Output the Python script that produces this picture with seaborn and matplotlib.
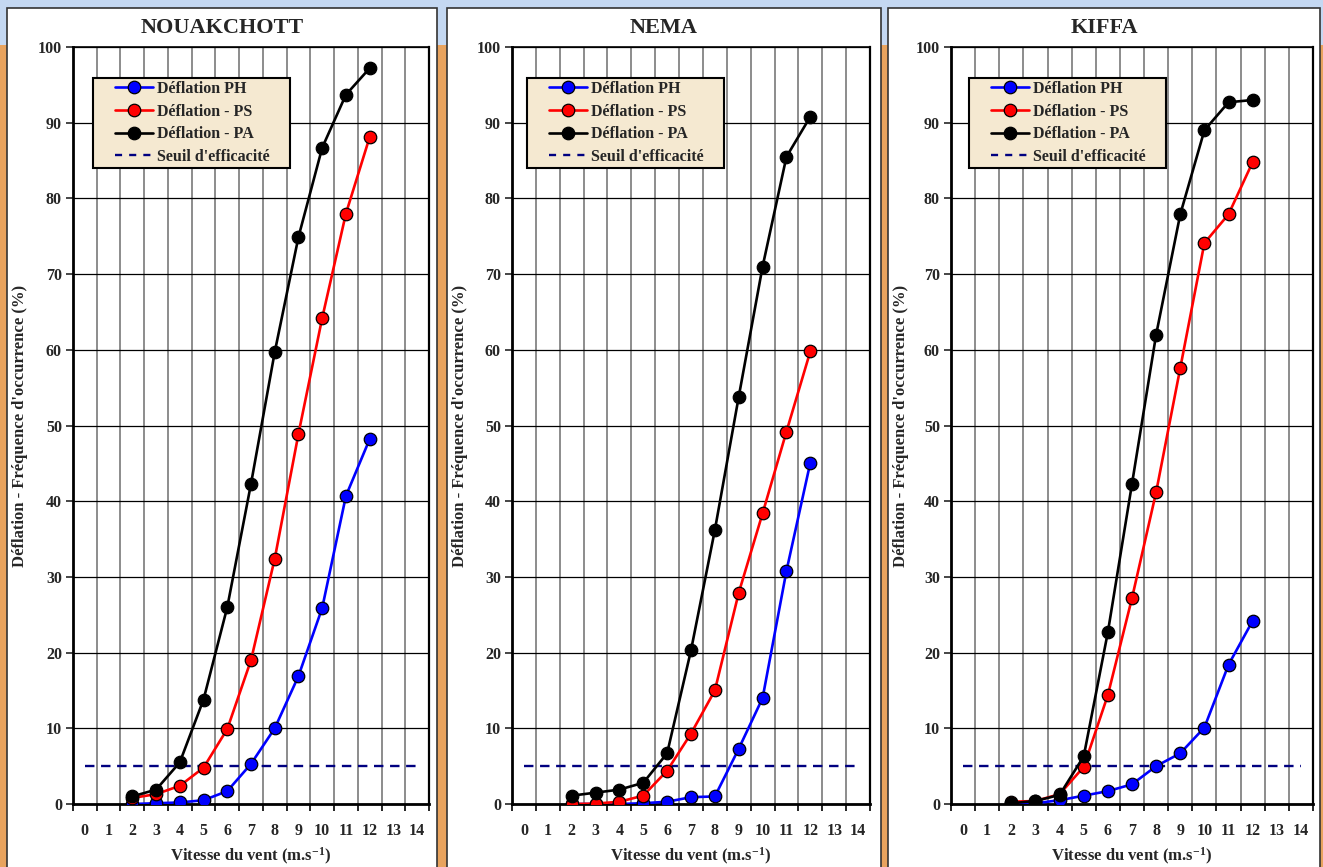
import matplotlib
matplotlib.use("Agg")
import matplotlib.pyplot as plt
from matplotlib.patches import Rectangle
from matplotlib.lines import Line2D
from matplotlib.legend_handler import HandlerLine2D
from matplotlib.ticker import FixedLocator
import seaborn as sns
import pandas as pd
import numpy as np

# ---------------- data ----------------
stations = ["NOUAKCHOTT", "NEMA", "KIFFA"]
speeds = [2, 3, 4, 5, 6, 7, 8, 9, 10, 11, 12]
series_names = ["Déflation PH", "Déflation - PS", "Déflation - PA"]

nouakchott_ph = [0.0, 0.1, 0.2, 0.5, 1.7, 5.3, 10.0, 16.9, 25.9, 40.7, 48.2]
nouakchott_ps = [0.8, 1.3, 2.4, 4.8, 9.9, 19.0, 32.4, 48.9, 64.2, 78.0, 88.1]
nouakchott_pa = [1.0, 1.9, 5.5, 13.8, 26.0, 42.3, 59.7, 74.9, 86.7, 93.7, 97.2]

nema_ph = [0.0, 0.0, 0.0, 0.1, 0.3, 0.9, 1.0, 7.3, 14.0, 30.8, 45.1]
nema_ps = [0.0, 0.05, 0.3, 1.1, 4.4, 9.3, 15.0, 27.9, 38.4, 49.2, 59.8]
nema_pa = [1.1, 1.5, 1.9, 2.8, 6.7, 20.3, 36.2, 53.8, 71.0, 85.5, 90.8]

kiffa_ph = [0.0, 0.1, 0.5, 1.1, 1.7, 2.6, 5.0, 6.7, 10.1, 18.4, 24.2]
kiffa_ps = [0.3, 0.4, 1.3, 4.9, 14.4, 27.2, 41.2, 57.6, 74.1, 77.9, 84.8]
kiffa_pa = [0.1, 0.4, 1.2, 6.3, 22.7, 42.3, 62.0, 77.9, 89.0, 92.7, 93.0]

threshold_label = "Seuil d'efficacité"
threshold_value = 5
x_categories = list(range(0, 15))
y_ticks = list(range(0, 101, 10))

station_data = {
    "NOUAKCHOTT": [nouakchott_ph, nouakchott_ps, nouakchott_pa],
    "NEMA": [nema_ph, nema_ps, nema_pa],
    "KIFFA": [kiffa_ph, kiffa_ps, kiffa_pa],
}
colors = {"Déflation PH": "#0000FF", "Déflation - PS": "#FF0000", "Déflation - PA": "#000000"}

# ---------------- style ----------------
sns.set_style("white")
plt.rcParams["font.family"] = ["Liberation Serif", "DejaVu Serif"]
plt.rcParams["font.weight"] = "bold"
plt.rcParams["mathtext.fontset"] = "custom"
plt.rcParams["mathtext.rm"] = "Liberation Serif:bold"
plt.rcParams["mathtext.it"] = "Liberation Serif:bold"
plt.rcParams["mathtext.bf"] = "Liberation Serif:bold"
plt.rcParams["mathtext.default"] = "rm"

W, H = 1323, 867
fig = plt.figure(figsize=(W / 100, H / 100), dpi=100)
fig.patch.set_facecolor("#E8A35E")


def fx(px):
    return px / W


def fy(py):
    return 1 - py / H


class ShiftedHandler(HandlerLine2D):
    """Draw the legend line in the right part of the handle box."""
    def __init__(self, shift_pt, **kw):
        super().__init__(**kw)
        self.shift_pt = shift_pt

    def create_artists(self, legend, orig_handle, xdescent, ydescent, width,
                       height, fontsize, trans):
        s = self.shift_pt
        return super().create_artists(legend, orig_handle, xdescent - s, ydescent,
                                      width - s, height, fontsize, trans)


# sky band
fig.patches.append(Rectangle((0, fy(45)), 1, 45 / H, transform=fig.transFigure,
                             facecolor="#C4D8F2", edgecolor="none", zorder=0))

panels = [(7, 437), (447, 881), (888, 1320)]
axes_px = [(73, 429), (512, 870), (951, 1313)]
legend_px = [93, 527, 969]
top_px, bot_px = 47, 804

for p0, p1 in panels:
    fig.patches.append(Rectangle((fx(p0), -0.02), fx(p1 - p0), fy(8) + 0.02,
                                 transform=fig.transFigure, facecolor="white",
                                 edgecolor="#333333", linewidth=1.2, zorder=1))

for i, st in enumerate(stations):
    l, r = axes_px[i]
    ax = fig.add_axes([fx(l), fy(bot_px), fx(r - l), (bot_px - top_px) / H])
    ax.set_zorder(2)
    ax.set_facecolor("white")

    rows = []
    for name, vals in zip(series_names, station_data[st]):
        for s, v in zip(speeds, vals):
            rows.append({"speed": s, "value": v, "series": name})
    df = pd.DataFrame(rows)

    sns.lineplot(data=df, x="speed", y="value", hue="series", palette=colors,
                 hue_order=series_names, marker="o", markersize=9,
                 markeredgecolor="black", markeredgewidth=0.9, linewidth=1.9,
                 legend=False, ax=ax, zorder=5)

    ax.plot([x_categories[0], x_categories[-1]], [threshold_value, threshold_value],
            linestyle=(0, (4, 2.8)), color="#000080", linewidth=1.7, zorder=4)

    ax.set_xlim(-0.5, 14.5)
    ax.set_ylim(0, 100)
    ax.xaxis.set_major_locator(FixedLocator(x_categories))
    ax.set_xticklabels([str(c) for c in x_categories])
    ax.xaxis.set_minor_locator(FixedLocator(np.arange(-0.5, 15, 1)))
    ax.yaxis.set_major_locator(FixedLocator(y_ticks))
    ax.tick_params(axis="x", which="major", length=0, pad=14, labelsize=11.5)
    ax.tick_params(axis="x", which="minor", length=5, width=1.2, direction="out",
                   color="black", bottom=True)
    ax.tick_params(axis="y", which="major", length=5, width=1.2, direction="out",
                   labelsize=11.5, pad=3, left=True)
    for lab in ax.get_xticklabels() + ax.get_yticklabels():
        lab.set_fontweight("bold")

    ax.grid(False)
    ax.grid(True, axis="x", which="minor", color="#6E6E6E", linewidth=1.1)
    ax.grid(True, axis="y", which="major", color="black", linewidth=0.9)
    ax.set_axisbelow(True)
    for sp in ax.spines.values():
        sp.set_visible(True)
        sp.set_color("black")
    ax.spines["left"].set_linewidth(2)
    ax.spines["bottom"].set_linewidth(2)
    ax.spines["top"].set_linewidth(1.2)
    ax.spines["right"].set_linewidth(1.6)

    ax.set_xlabel("Vitesse du vent (m.s$^{-1}$)", fontsize=12, fontweight="bold")
    ax.xaxis.set_label_coords(0.5, (bot_px - 856) / (bot_px - top_px))
    ax.xaxis.label.set_va("center")
    ax.set_ylabel("Déflation - Fréquence d'occurrence (%)", fontsize=12,
                  fontweight="bold")
    ax.yaxis.set_label_coords((20 - l + panels[i][0] - 7) / (r - l), 0.5)
    ax.yaxis.label.set_va("center")

    handles = [Line2D([], [], color=colors[n], marker="o", markersize=9,
                      markeredgecolor="black", markeredgewidth=0.9, linewidth=1.9)
               for n in series_names]
    handles.append(Line2D([], [], color="#000080", linestyle=(0, (3, 3)), linewidth=1.7))
    labels = series_names + [threshold_label]
    lx = (legend_px[i] - l) / (r - l)
    ly_top = (bot_px - 78) / (bot_px - top_px)
    lw_frac = 197 / (r - l)
    lh_frac = 90 / (bot_px - top_px)
    shift_pt = 13.7
    leg = ax.legend(handles, labels, loc="upper left",
                    bbox_to_anchor=(lx, ly_top - lh_frac, lw_frac, lh_frac),
                    mode="expand", borderaxespad=0, frameon=True, fancybox=False,
                    framealpha=1, facecolor="#F5E9D1", edgecolor="black",
                    handlelength=3.56, handletextpad=0.25,
                    labelspacing=0.42, borderpad=0.18,
                    handler_map={Line2D: ShiftedHandler(shift_pt)},
                    prop={"family": "Liberation Serif", "weight": "bold", "size": 11.5})
    leg.get_frame().set_linewidth(1.5)
    leg.set_zorder(10)

    p0, p1 = panels[i]
    fig.text(fx((p0 + p1) / 2), fy(28), st, ha="center", va="center",
             fontsize=16, fontweight="bold", zorder=5)

fig.savefig("out.png", dpi=100, facecolor=fig.get_facecolor())
